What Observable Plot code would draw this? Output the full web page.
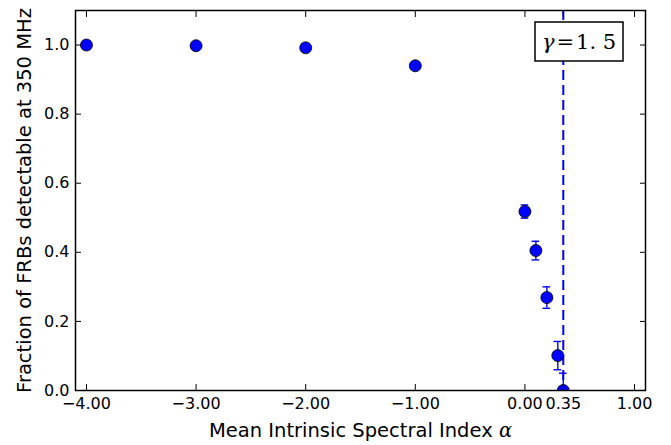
<!DOCTYPE html>
<html><head><meta charset="utf-8">
<script src="https://cdn.jsdelivr.net/npm/d3@7"></script>
<script src="https://cdn.jsdelivr.net/npm/@observablehq/plot@0.6"></script>
<style>body{margin:0;background:#fff}</style>
</head><body><div id="chart"></div>
<script>
const alphaValues = [-4, -3, -2, -1, 0.0, 0.1, 0.2, 0.3, 0.35];
const fractionValues = [1.0, 0.998, 0.992, 0.94, 0.518, 0.405, 0.269, 0.101, 0.0];
const fractionErrors = [0, 0, 0, 0, 0.019, 0.027, 0.031, 0.041, 0.05];
const xTicks = [-4, -3, -2, -1, 0, 0.35, 1];
const yTicks = [0, 0.2, 0.4, 0.6, 0.8, 1.0];
const cutoffAlpha = [0.35];
const gammaLabel = "1.5";
const xLabel = "Mean Intrinsic Spectral Index ";
const yLabel = "Fraction of FRBs detectable at 350 MHz";

const data = alphaValues.map((a, i) => ({x: a, y: fractionValues[i], e: fractionErrors[i]}));
const errData = data.filter(d => d.e > 0);
const capHalf = 0.035;

const plot = Plot.plot({
  width: 671, height: 445,
  marginLeft: 75, marginRight: 26, marginTop: 10, marginBottom: 55,
  style: {fontFamily: "DejaVu Sans", fontSize: "16px", color: "#000", background: "#fff"},
  x: {domain: [-4.1, 1.1]},
  y: {domain: [0, 1.1]},
  marks: [
    Plot.ruleX(cutoffAlpha, {stroke: "#0000ff", strokeWidth: 2, strokeDasharray: "10,5"}),
    Plot.ruleX(errData, {x: "x", y1: d => d.y - d.e, y2: d => d.y + d.e, stroke: "#0000ff", strokeWidth: 1.4, clip: true}),
    Plot.ruleY(errData, {y: d => d.y + d.e, x1: d => d.x - capHalf, x2: d => d.x + capHalf, stroke: "#0000ff", strokeWidth: 1.4, clip: true}),
    Plot.ruleY(errData, {y: d => d.y - d.e, x1: d => d.x - capHalf, x2: d => d.x + capHalf, stroke: "#0000ff", strokeWidth: 1.4, clip: true}),
    Plot.dot(data, {x: "x", y: "y", r: 6, fill: "#0000ff", stroke: "#000", strokeWidth: 0.8, clip: true}),
    // tick marks inward on all four sides
    Plot.axisX({anchor: "bottom", ticks: xTicks, tickSize: -6, tickFormat: () => "", label: null, strokeWidth: 1}),
    Plot.axisX({anchor: "top", ticks: xTicks, tickSize: -6, tickFormat: () => "", label: null, strokeWidth: 1}),
    Plot.axisY({anchor: "left", ticks: yTicks, tickSize: -6, tickFormat: () => "", label: null, strokeWidth: 1}),
    Plot.axisY({anchor: "right", ticks: yTicks, tickSize: -6, tickFormat: () => "", label: null, strokeWidth: 1}),
    // labels
    Plot.axisX({anchor: "bottom", ticks: xTicks, tickSize: 0, tickPadding: 7, tickFormat: d3.format(".2f"), label: xLabel, labelAnchor: "center", labelOffset: 46, labelArrow: "none"}),
    Plot.axisY({anchor: "left", ticks: yTicks, tickSize: 0, tickPadding: 6, tickFormat: d3.format(".1f"), label: yLabel, labelAnchor: "center", labelOffset: 58, labelArrow: "none"}),
    Plot.frame({stroke: "#000", strokeWidth: 1.5})
  ]
});
document.getElementById("chart").appendChild(plot);

// style axis labels and add math symbols
const svg = d3.select(plot);
svg.selectAll("[aria-label='x-axis label'] text, [aria-label='y-axis label'] text").style("font-size", "19.5px");
const xl = svg.select("[aria-label='x-axis label'] text");
if (!xl.empty()) {
  xl.append("tspan").text("α").style("font-family", "DejaVu Serif").style("font-style", "italic");
}
// gamma annotation box
const g = svg.append("g");
const t = g.append("text").attr("x", 579).attr("y", 49).attr("text-anchor", "middle")
  .style("font-family", "DejaVu Serif").style("font-size", "21px");
t.append("tspan").text("γ").style("font-style", "italic");
t.append("tspan").text("=").attr("dx", 2);
t.append("tspan").text(gammaLabel.replace(".", ". ")).attr("dx", 2);
g.insert("rect", "text").attr("x", 535).attr("y", 22).attr("width", 88).attr("height", 39)
  .attr("fill", "#fff").attr("stroke", "#000").attr("stroke-width", 1.5);
</script>
</body></html>
